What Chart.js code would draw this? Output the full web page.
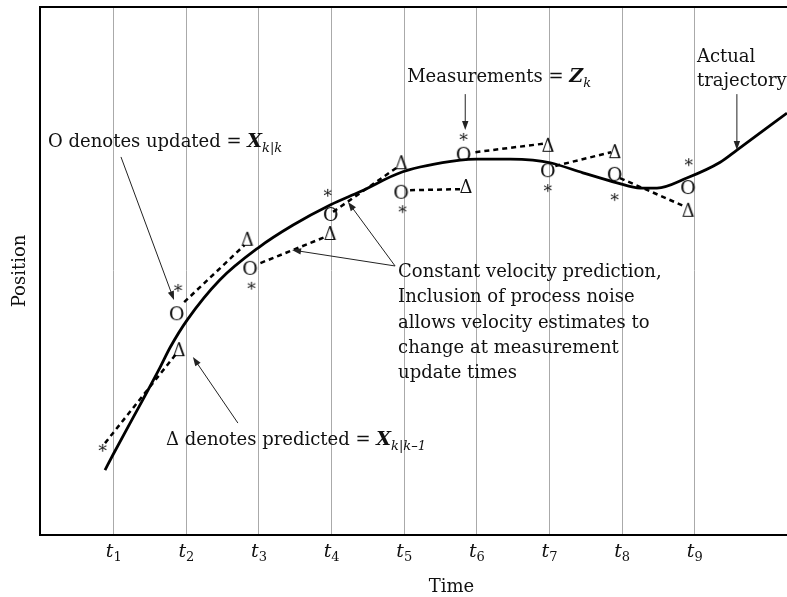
<!DOCTYPE html>
<html>
<head>
<meta charset="utf-8">
<script src="https://cdn.jsdelivr.net/npm/chart.js@4.4.0/dist/chart.umd.min.js"></script>
<style>
	html, body { margin: 0; padding: 0; background: #fff; overflow: hidden; }
	#wrap { width: 792px; height: 597px; }
</style>
</head>
<body>
<div id="wrap"><canvas id="chart"></canvas></div>
<script>
// measurement update times t1..t9
const tickTimes = [1, 2, 3, 4, 5, 6, 7, 8, 9];
const tickSubs = ["1", "2", "3", "4", "5", "6", "7", "8", "9"];

// actual trajectory
const trajT = [0.88, 0.99, 1.40, 1.64, 1.78, 2.01, 2.46, 2.99, 3.47, 3.98, 4.39, 4.98, 5.77, 6.00, 6.46, 6.77, 7.01, 7.46, 7.93, 8.25, 8.48, 8.89, 9.35, 9.58, 10.27];
const trajV = [12.3, 15.2, 25.6, 31.8, 35.6, 40.7, 48.3, 54.4, 58.7, 62.5, 65.0, 68.8, 71.0, 71.2, 71.2, 71.0, 70.5, 68.6, 66.7, 65.7, 65.7, 67.6, 70.6, 72.9, 79.9];

// measurements (*)
const measT = [0.85, 1.89, 2.90, 3.95, 4.98, 5.82, 6.98, 7.90, 8.92];
const measV = [16.5, 46.8, 47.2, 64.8, 61.7, 75.4, 65.7, 64.0, 70.6];

// updated estimates (O)
const updT = [1.87, 2.88, 3.99, 4.96, 5.82, 6.98, 7.90, 8.91];
const updV = [42.0, 50.6, 60.8, 65.0, 72.2, 69.1, 68.4, 65.9];

// predicted estimates (triangle)
const predT = [1.90, 2.84, 3.98, 4.96, 5.85, 6.98, 7.90, 8.91];
const predV = [35.2, 56.1, 57.2, 70.6, 66.1, 73.9, 72.7, 61.6];

// constant velocity prediction segments
const segFromT = [0.88, 1.97, 3.02, 4.02, 5.08, 5.98, 7.08, 7.97];
const segFromV = [17.4, 44.1, 51.5, 61.2, 65.3, 72.5, 69.9, 67.6];
const segToT = [1.86, 2.80, 3.94, 4.91, 5.78, 6.91, 7.85, 8.85];
const segToV = [34.3, 54.9, 56.6, 69.7, 65.5, 74.1, 72.5, 62.3];

const SERIF = '"DejaVu Serif", serif';
const INK = "#111";

const glyph = (ch, size) => {
	const c = document.createElement("canvas");
	c.width = 26;
	c.height = 26;
	const g = c.getContext("2d");
	g.font = `${size}px ${SERIF}`;
	g.fillStyle = INK;
	const m = g.measureText(ch);
	const w = m.actualBoundingBoxLeft + m.actualBoundingBoxRight;
	const h = m.actualBoundingBoxAscent + m.actualBoundingBoxDescent;
	g.fillText(ch, 13 - w / 2 + m.actualBoundingBoxLeft, 13 - h / 2 + m.actualBoundingBoxAscent);
	return c;
};

const zip = (xs, ys) => xs.map((x, i) => ({ x, y: ys[i] }));

const segData = [];
segFromT.forEach((t, i) => {
	segData.push({ x: t, y: segFromV[i] });
	segData.push({ x: segToT[i], y: segToV[i] });
	segData.push({ x: segToT[i], y: null });
});

const arrow = (ctx, x1, y1, x2, y2) => {
	const a = Math.atan2(y2 - y1, x2 - x1);
	const len = 9, half = 3.2;
	ctx.beginPath();
	ctx.moveTo(x1, y1);
	ctx.lineTo(x2 - Math.cos(a) * len * 0.8, y2 - Math.sin(a) * len * 0.8);
	ctx.stroke();
	ctx.beginPath();
	ctx.moveTo(x2, y2);
	ctx.lineTo(x2 - Math.cos(a) * len - Math.sin(a) * half, y2 - Math.sin(a) * len + Math.cos(a) * half);
	ctx.lineTo(x2 - Math.cos(a) * len + Math.sin(a) * half, y2 - Math.sin(a) * len - Math.cos(a) * half);
	ctx.closePath();
	ctx.fill();
};

const rich = (ctx, x, y, parts) => {
	parts.forEach((p) => {
		ctx.font = p.font;
		ctx.fillText(p.text, x, y + (p.dy || 0));
		x += ctx.measureText(p.text).width;
	});
};

const TXT = `18px ${SERIF}`;
const SYM = `bold italic 19px ${SERIF}`;
const SUB = `italic 13px ${SERIF}`;

const annotations = {
	id: "annotations",
	afterDraw(chart) {
		const { ctx, chartArea: area, scales } = chart;
		const X = (t) => scales.x.getPixelForValue(t);
		const Y = (v) => scales.y.getPixelForValue(v);
		ctx.save();

		// top frame line
		ctx.strokeStyle = "#000";
		ctx.lineWidth = 2;
		ctx.beginPath();
		ctx.moveTo(area.left - 1, area.top);
		ctx.lineTo(chart.width, area.top);
		ctx.stroke();

		ctx.fillStyle = INK;
		ctx.textBaseline = "alphabetic";

		// tick labels t_k
		tickTimes.forEach((t, i) => {
			const x = X(t);
			ctx.font = `italic 19px ${SERIF}`;
			const tw = ctx.measureText("t").width;
			ctx.font = `13px ${SERIF}`;
			const sw = ctx.measureText(tickSubs[i]).width;
			const x0 = x - (tw + sw) / 2;
			ctx.font = `italic 19px ${SERIF}`;
			ctx.fillText("t", x0, area.bottom + 22);
			ctx.font = `13px ${SERIF}`;
			ctx.fillText(tickSubs[i], x0 + tw, area.bottom + 26);
		});

		// axis titles
		ctx.font = TXT;
		ctx.textAlign = "center";
		ctx.fillText("Time", X(5.65), area.bottom + 57);
		ctx.save();
		ctx.translate(25, (area.top + area.bottom) / 2);
		ctx.rotate(-Math.PI / 2);
		ctx.fillText("Position", 0, 0);
		ctx.restore();
		ctx.textAlign = "left";

		// labels
		rich(ctx, X(0.096), Y(73.5), [
			{ text: "O denotes updated = ", font: TXT },
			{ text: "X", font: SYM },
			{ text: "k|k", font: SUB, dy: 5 },
		]);
		rich(ctx, X(5.04), Y(85.8), [
			{ text: "Measurements = ", font: TXT },
			{ text: "Z", font: SYM },
			{ text: "k", font: SUB, dy: 5 },
		]);
		ctx.font = TXT;
		ctx.fillText("Actual", X(9.03), Y(89.6));
		ctx.fillText("trajectory", X(9.03), Y(85.0));
		rich(ctx, X(1.72), Y(17.05), [
			{ text: "\u0394 denotes predicted = ", font: TXT },
			{ text: "X", font: SYM },
			{ text: "k|k\u20131", font: SUB, dy: 5 },
		]);
		const noteLines = [
			"Constant velocity prediction,",
			"Inclusion of process noise",
			"allows velocity estimates to",
			"change at measurement",
			"update times",
		];
		ctx.font = TXT;
		noteLines.forEach((line, i) => {
			ctx.fillText(line, X(4.915), Y(48.86) + i * 25.3);
		});

		// arrows
		ctx.strokeStyle = "#222";
		ctx.fillStyle = "#222";
		ctx.lineWidth = 1;
		arrow(ctx, X(1.10), Y(71.6), X(1.83), Y(44.5));
		arrow(ctx, X(5.84), Y(83.5), X(5.84), Y(76.7));
		arrow(ctx, X(9.58), Y(83.5), X(9.58), Y(72.9));
		arrow(ctx, X(4.874), Y(50.95), X(4.226), Y(63.07));
		arrow(ctx, X(4.874), Y(50.95), X(3.455), Y(53.98));
		arrow(ctx, X(2.71), Y(21.2), X(2.09), Y(33.7));

		ctx.restore();
	},
};

new Chart(document.getElementById("chart"), {
	type: "scatter",
	data: {
		datasets: [
			{
				type: "line",
				label: "Actual trajectory",
				data: zip(trajT, trajV),
				borderColor: "#000",
				borderWidth: 2.8,
				pointRadius: 0,
				cubicInterpolationMode: "monotone",
				fill: false,
			},
			{
				type: "line",
				label: "Constant velocity prediction",
				data: segData,
				borderColor: "#000",
				borderWidth: 2.5,
				borderDash: [5, 4],
				pointRadius: 0,
				spanGaps: false,
				tension: 0,
				fill: false,
			},
			{
				label: "Measurements",
				data: zip(measT, measV),
				pointStyle: glyph("*", 17),
			},
			{
				label: "Updated",
				data: zip(updT, updV),
				pointStyle: glyph("O", 19),
			},
			{
				label: "Predicted",
				data: zip(predT, predV),
				pointStyle: glyph("\u0394", 18),
			},
		],
	},
	options: {
		responsive: true,
		maintainAspectRatio: false,
		animation: false,
		layout: { padding: { left: 40, right: 0, top: 7, bottom: 62 } },
		plugins: { legend: { display: false }, tooltip: { enabled: false } },
		scales: {
			x: {
				type: "linear",
				min: -0.015,
				max: 10.27,
				grid: { color: "#aaa", lineWidth: 1, drawTicks: false },
				border: { color: "#000", width: 2 },
				ticks: { display: false },
				afterBuildTicks: (scale) => {
					scale.ticks = tickTimes.map((value) => ({ value }));
				},
			},
			y: {
				min: 0,
				max: 100,
				grid: { display: false, drawTicks: false },
				border: { color: "#000", width: 2 },
				ticks: { display: false },
			},
		},
	},
	plugins: [annotations],
});
</script>
</body>
</html>
